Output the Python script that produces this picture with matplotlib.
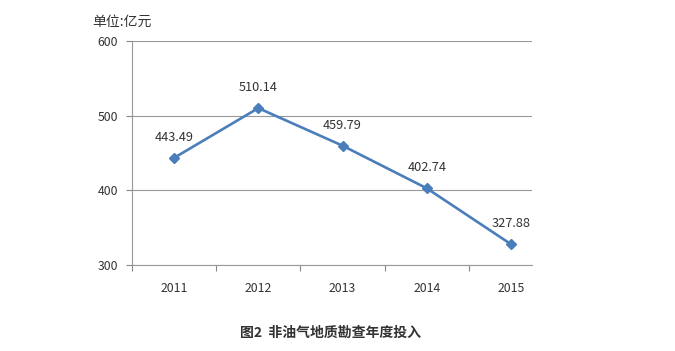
import matplotlib
matplotlib.use("Agg")
import matplotlib.pyplot as plt

plt.rcParams['font.family'] = ['Noto Sans CJK SC', 'DejaVu Sans']

# data
years = ['2011', '2012', '2013', '2014', '2015']
values = [443.49, 510.14, 459.79, 402.74, 327.88]
y_ticks = [300, 400, 500, 600]

fig = plt.figure(figsize=(6.75, 3.51), dpi=100)
ax = fig.add_axes([132/675, 1 - 265/351, 400/675, 224/351])

x = list(range(len(years)))
ax.plot(x, values, color='#4A7EBB', lw=1.9, marker='D', ms=5,
        markerfacecolor='#4A7EBB', markeredgecolor='#4A7EBB', zorder=3)
for xi, v in zip(x, values):
    ax.annotate(f'{v:.2f}', (xi, v), xytext=(0, 10), textcoords='offset points',
                ha='center', va='bottom', fontsize=9.2, color='#333333')

ax.set_xlim(-0.5, 4.25)
ax.set_ylim(300, 600)
ax.set_yticks(y_ticks)
ax.set_yticklabels([str(t) for t in y_ticks], fontsize=8.8, color='#333333')
ax.set_xticks([i - 0.5 for i in range(len(years))])
ax.set_xticklabels([])
ax.set_xticks(x, minor=True)
ax.set_xticklabels(years, minor=True, fontsize=8.8, color='#333333')
ax.tick_params(axis='x', which='minor', length=0, pad=12)
ax.tick_params(axis='x', which='major', length=4, color='#888888', direction='out')
ax.tick_params(axis='y', length=4, color='#888888', direction='out', pad=6)

ax.grid(axis='y', color='#999999', lw=0.8)
ax.set_axisbelow(True)
for s in ['top', 'right']:
    ax.spines[s].set_visible(False)
for s in ['left', 'bottom']:
    ax.spines[s].set_color('#999999')
    ax.spines[s].set_linewidth(0.8)

fig.text(92/675, 1 - 22/351, '单位:亿元', fontsize=10, color='#333333', va='center', ha='left')
fig.text(330/675, 1 - 333/351, '图2  非油气地质勘查年度投入', fontsize=10,
         fontweight='bold', color='#333333', ha='center', va='center')

fig.savefig('out.png', dpi=100)
